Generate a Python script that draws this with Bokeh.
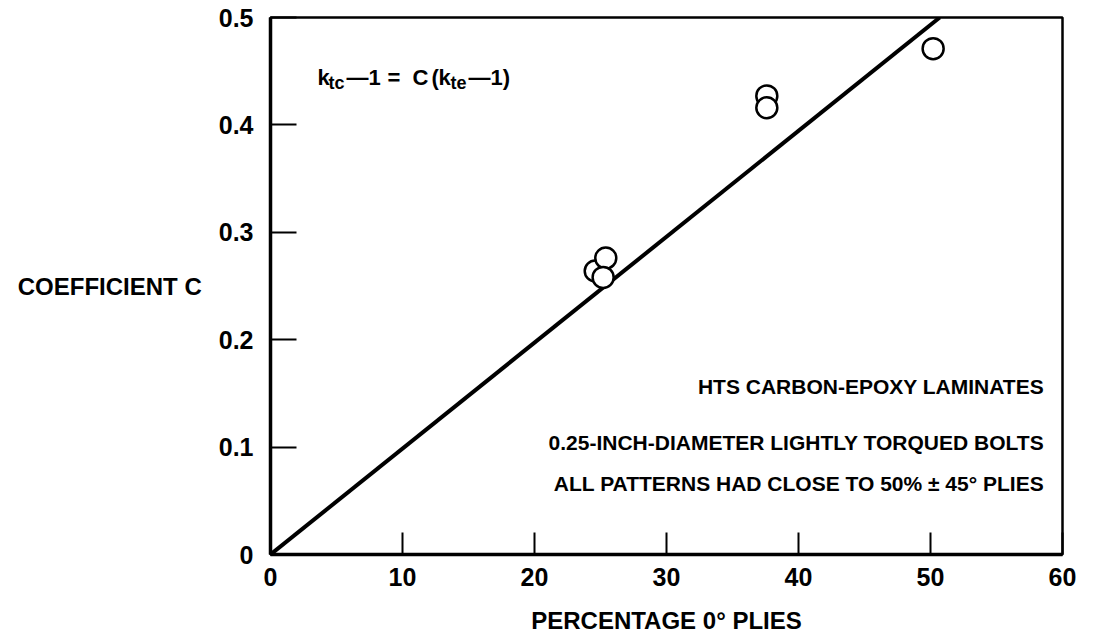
from bokeh.plotting import figure
from bokeh.models import FixedTicker, Label, Range1d
from bokeh.embed import file_html
from bokeh.resources import INLINE

# ---- data ----
pct_0deg = [24.6, 25.4, 25.2, 37.6, 37.6, 50.2]
coef_c = [0.264, 0.276, 0.258, 0.427, 0.416, 0.471]
fit_x = [0.0, 50.7]
fit_y = [0.0, 0.5]
x_ticks = [0, 10, 20, 30, 40, 50, 60]
y_ticks = [0.0, 0.1, 0.2, 0.3, 0.4, 0.5]
x_tick_labels = ["0", "10", "20", "30", "40", "50", "60"]
y_tick_labels = ["0", "0.1", "0.2", "0.3", "0.4", "0.5"]
notes = ["HTS CARBON-EPOXY LAMINATES",
         "0.25-INCH-DIAMETER LIGHTLY TORQUED BOLTS",
         "ALL PATTERNS HAD CLOSE TO 50% \u00b1 45\u00b0 PLIES"]

FONT = "Liberation Sans"

p = figure(width=1085, height=638, x_range=Range1d(0, 60), y_range=Range1d(0, 0.5),
           output_backend="svg", toolbar_location=None,
           min_border_left=270, min_border_right=23, min_border_top=17, min_border_bottom=84)
p.grid.visible = False
p.background_fill_color = "white"
p.border_fill_color = "white"
p.outline_line_color = "black"
p.outline_line_width = 2.5

for ax, ticks, labels, tin in ((p.xaxis, x_ticks, x_tick_labels, 22),
                               (p.yaxis, y_ticks, y_tick_labels, 26)):
    ax.ticker = FixedTicker(ticks=ticks)
    ax.major_label_overrides = {t: l for t, l in zip(ticks, labels)}
    ax.major_tick_in = tin
    ax.major_tick_out = 0
    ax.minor_tick_line_color = None
    ax.axis_line_width = 3.5
    ax.axis_line_color = "black"
    ax.major_tick_line_width = 2
    ax.major_tick_line_color = "black"
    ax.major_label_text_font = FONT
    ax.major_label_text_font_style = "bold"
    ax.major_label_text_font_size = "25px"
    ax.major_label_text_color = "black"
    ax.axis_label_text_font = FONT
    ax.axis_label_text_font_style = "bold"
    ax.axis_label_text_color = "black"

p.xaxis.major_label_standoff = 13
p.yaxis.major_label_standoff = 17
p.xaxis.axis_label = "PERCENTAGE 0\u00b0 PLIES"
p.xaxis.axis_label_text_font_size = "24px"
p.xaxis.axis_label_standoff = 18

ya = p.yaxis[0]
if "axis_label_orientation" in ya.properties():
    ya.axis_label = "COEFFICIENT C"
    ya.axis_label_orientation = "horizontal"
    ya.axis_label_text_font_size = "24px"
    ya.axis_label_standoff = 14
else:
    p.add_layout(Label(x=0, y=0.253, x_offset=-260, text="COEFFICIENT C",
                       text_font=FONT, text_font_style="bold", text_font_size="24px",
                       text_baseline="middle", text_align="left", text_color="black"))

p.line(fit_x, fit_y, line_color="black", line_width=4)
p.scatter(pct_0deg, coef_c, marker="circle", size=21, fill_color="white",
          line_color="black", line_width=2.5)

# equation k_tc - 1 = C (k_te - 1)
eq_x, eq_y = 3.56, 0.444
main_pieces = [("k", 0), ("\u20141", 29), ("=", 70), ("C", 95), ("(", 114), ("k", 121), ("\u20141)", 151)]
sub_pieces = [("tc", 11), ("te", 133)]
for txt, dx in main_pieces:
    p.add_layout(Label(x=eq_x, y=eq_y, x_offset=dx, text=txt, text_font=FONT,
                       text_font_style="bold", text_font_size="22px",
                       text_baseline="alphabetic", text_align="left", text_color="black"))
for txt, dx in sub_pieces:
    p.add_layout(Label(x=eq_x, y=eq_y - 0.005, x_offset=dx, text=txt, text_font=FONT,
                       text_font_style="bold", text_font_size="18px",
                       text_baseline="alphabetic", text_align="left", text_color="black"))

# notes, right aligned
for txt, yv in zip(notes, [0.156, 0.104, 0.066]):
    p.add_layout(Label(x=58.6, y=yv, text=txt, text_font=FONT, text_font_style="bold",
                       text_font_size="21px", text_baseline="middle", text_align="right",
                       text_color="black"))

open("out.html", "w").write(file_html(p, INLINE))
